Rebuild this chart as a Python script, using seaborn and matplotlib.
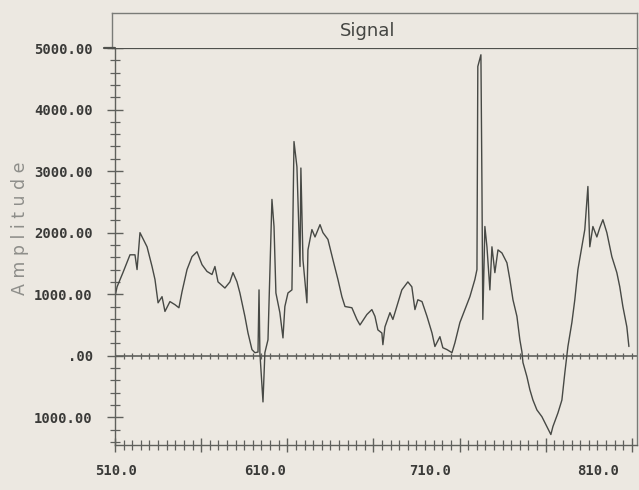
import numpy as np
import pandas as pd
import matplotlib
matplotlib.use("Agg")
import matplotlib.pyplot as plt
import seaborn as sns
from matplotlib.ticker import FixedLocator, MultipleLocator
from matplotlib.transforms import ScaledTranslation
from matplotlib.lines import Line2D

# ---------------- data ----------------
wavelength = [
    510.0, 511.2, 514.6, 518.7, 521.6, 522.8, 524.5, 528.6, 531.5, 533.2,
    535.0, 537.3, 539.0, 541.9, 544.8, 547.1, 548.9, 551.8, 554.7, 557.6,
    560.5, 563.4, 566.3, 568.0, 569.8, 573.8, 576.7, 578.5, 580.8, 582.5,
    585.4, 587.2, 589.5, 591.2, 593.0, 593.6, 594.1, 595.9, 597.0, 598.8,
    601.1, 602.3, 603.4, 605.7, 607.5, 608.6, 610.4, 612.7, 613.9, 615.6,
    617.4, 617.9, 619.1, 621.4, 622.0, 624.3, 626.1, 629.0, 630.7, 633.6,
    636.5, 639.4, 641.7, 643.5, 647.5, 650.4, 652.2, 656.2, 659.1, 660.9,
    662.6, 664.9, 665.5, 666.7, 669.6, 671.3, 673.6, 676.5, 680.0, 682.3,
    684.1, 685.8, 688.2, 691.1, 694.0, 695.7, 698.6, 700.3, 702.7, 705.6,
    707.3, 710.2, 713.1, 716.0, 718.9, 720.1, 720.6, 722.4, 723.0, 723.5,
    724.7, 725.9, 727.6, 728.8, 730.5, 732.3, 734.6, 737.5, 739.2, 741.0,
    743.3, 745.0, 746.2, 746.8, 749.1, 750.8, 752.6, 754.9, 757.8, 760.7,
    763.0, 764.2, 767.1, 769.4, 771.1, 772.9, 775.2, 776.9, 778.7, 781.0,
    782.7, 784.5, 785.6, 787.4, 789.7, 791.4, 793.2, 795.5, 798.4, 801.3,
    803.0, 804.8, 807.1, 808.3,
]
amplitude = [
    960, 1120, 1350, 1640, 1640, 1400, 2000, 1770, 1450, 1240,
    860, 960, 720, 880, 830, 780, 1040, 1400, 1610, 1690,
    1480, 1370, 1320, 1450, 1200, 1100, 1200, 1350, 1200, 1020,
    640, 370, 100, 50, 60, 1070, 50, -750, 50, 260,
    2540, 2100, 1020, 700, 290, 800, 1020, 1070, 3480, 3070,
    1450, 3050, 1560, 860, 1720, 2050, 1930, 2130, 2000, 1890,
    1560, 1240, 960, 800, 780, 590, 500, 670, 750, 640,
    420, 370, 180, 470, 700, 590, 800, 1070, 1200, 1120,
    750, 910, 880, 640, 370, 150, 310, 130, 100, 50,
    210, 540, 750, 960, 1240, 1400, 4700, 4890, 2750, 590,
    2100, 1770, 1070, 1770, 1350, 1720, 1670, 1510, 1240, 910,
    640, 260, 65, -110, -340, -550, -720, -880, -990, -1150,
    -1280, -1150, -930, -720, -280, 150, 540, 910, 1400, 1770,
    2050, 2750, 1770, 2100, 1930, 2080, 2210, 2000, 1610, 1350,
    1120, 800, 470, 150,
]

x_tick_values = [510, 560, 610, 660, 710, 760, 810]
x_tick_labels = ["510.0", "", "610.0", "", "710.0", "", "810.0"]
y_tick_values = [-1000, 0, 1000, 2000, 3000, 4000, 5000]
y_tick_labels = ["1000.00", ".00", "1000.00", "2000.00", "3000.00", "4000.00", "5000.00"]
title_text = "Signal"
ylabel_text = "A m p l i t u d e"

df = pd.DataFrame({"wavelength": wavelength, "amplitude": amplitude})

# ---------------- styling ----------------
BG = "#ECE8E1"
INK = "#474945"
AXC = "#5f605c"

sns.set_theme(style="white")
plt.rcParams["font.family"] = ["DejaVu Sans"]

fig = plt.figure(figsize=(6.39, 4.90), dpi=100, facecolor=BG)
W, H = 639.0, 490.0

ax = fig.add_axes([115 / W, 1 - 445 / H, 522 / W, 397 / H])
ax.set_facecolor(BG)

sns.lineplot(data=df, x="wavelength", y="amplitude", ax=ax, color=INK,
             linewidth=1.0, estimator=None, sort=False, legend=False)

ax.set_xlim(510, 813)
ax.set_ylim(-1450, 5000)

# zero line with its own tick marks
ax.axhline(0, color=AXC, lw=1.2, zorder=1)
zx = np.arange(510, 813, 5)
ax.plot(zx, np.zeros_like(zx), linestyle="none", marker="|", ms=5,
        mew=0.9, color=AXC, zorder=1)

for side, sp in ax.spines.items():
    sp.set_visible(True)
    sp.set_color("#7a7b77")
    sp.set_linewidth(1.0)
ax.spines["top"].set_color("#4f504c")
ax.spines["top"].set_linewidth(1.6)
ax.spines["left"].set_color(AXC)
ax.spines["bottom"].set_color(AXC)

ax.xaxis.set_major_locator(FixedLocator(x_tick_values))
ax.set_xticklabels(x_tick_labels)
ax.xaxis.set_minor_locator(MultipleLocator(5))
ax.yaxis.set_major_locator(FixedLocator(y_tick_values))
ax.set_yticklabels(y_tick_labels)
ax.yaxis.set_minor_locator(MultipleLocator(200))

for lab in ax.get_xticklabels() + ax.get_yticklabels():
    lab.set_fontfamily("DejaVu Sans Mono")
    lab.set_fontweight("bold")
    lab.set_fontsize(10)
    lab.set_color("#3a3a38")

ax.tick_params(axis="x", which="major", direction="inout", length=10, width=1.0,
               color=AXC, pad=9, bottom=True, top=False)
ax.tick_params(axis="x", which="minor", direction="inout", length=7, width=0.9,
               color=AXC, bottom=True, top=False)
ax.tick_params(axis="y", which="major", direction="inout", length=12, width=1.0,
               color=AXC, pad=10, left=True, right=False)
ax.tick_params(axis="y", which="minor", direction="inout", length=7, width=0.9,
               color=AXC, left=True, right=False)

ax.set_xlabel("")
ax.set_ylabel(ylabel_text, fontsize=12.5, color="#8e8e8a", labelpad=0)
ax.yaxis.set_label_coords(-0.165, 0.545)

# shift x tick labels like in the scan
offsets_px = [1, 0, -22, 0, -29, 0, -34]
for lab, dx in zip(ax.get_xticklabels(), offsets_px):
    lab.set_transform(lab.get_transform() + ScaledTranslation(dx / 100.0, 0, fig.dpi_scale_trans))

# title box
tax = fig.add_axes([112 / W, 1 - 48 / H, 525 / W, 35 / H])
tax.set_facecolor(BG)
tax.set_xticks([])
tax.set_yticks([])
for side, sp in tax.spines.items():
    sp.set_color("#7a7b77")
    sp.set_linewidth(1.0)
tax.spines["bottom"].set_visible(False)
tax.spines["left"].set_linestyle((0, (3, 1)))
tax.text(0.486, 0.5, title_text, ha="center", va="center", fontsize=13,
         color="#444542", transform=tax.transAxes)

# small leftward extension of the heavy line under the title
fig.add_artist(Line2D([104 / W, 115 / W], [1 - 48 / H, 1 - 48 / H],
                      transform=fig.transFigure, color="#4f504c", lw=1.6))

fig.savefig("out.png", dpi=100, facecolor=BG)
